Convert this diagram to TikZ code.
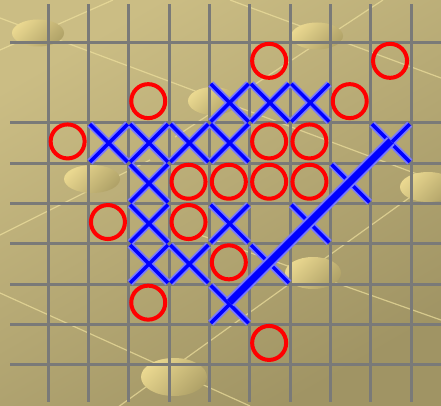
\documentclass[tikz,border=0pt]{standalone}
\usepackage{tikz}
\usetikzlibrary{arrows.meta}

\definecolor{boardtop}{RGB}{203,189,132}
\definecolor{boardbot}{RGB}{160,148,100}
\definecolor{pebblelight}{RGB}{234,216,144}
\definecolor{pebbledark}{RGB}{176,162,104}
\definecolor{streak}{RGB}{238,224,158}
\definecolor{gridgray}{RGB}{122,122,120}
\definecolor{xhalo}{RGB}{120,120,255}

\begin{document}
\begin{tikzpicture}[x=1pt,y=-1pt,
    pebble/.style={top color=pebblelight,bottom color=pebbledark,shading angle=45},
    streakline/.style={streak,line width=1.2pt,opacity=.7},
    gridline/.style={gridgray,line width=3pt},
    ring/.style={red,line width=4pt},
    crosshalo/.style={xhalo,line width=7pt},
    crosscore/.style={blue,line width=3.5pt}]
  \useasboundingbox (0,0) rectangle (441,406);
  \clip (0,0) rectangle (441,406);
  \shade[top color=boardtop,bottom color=boardbot,shading angle=30] (0,0) rectangle (441,406);
  % light streaks on the board
  \draw[streakline] (0,18) -- (441,183);
  \draw[streakline] (0,50) -- (113,0);
  \draw[streakline] (175,137) -- (383,0);
  \draw[streakline] (230,0) -- (441,78);
  \draw[streakline] (0,293) -- (250,406);
  \draw[streakline] (100,420) -- (441,175);
  \draw[streakline] (200,235) -- (441,320);
  \draw[streakline] (0,235) -- (150,160);
  % pebbles
  \shade[pebble] (38,33) ellipse [x radius=26pt,y radius=13.5pt];
  \shade[pebble] (317,36) ellipse [x radius=26pt,y radius=13.5pt];
  \shade[pebble] (213,101) ellipse [x radius=25pt,y radius=14pt];
  \shade[pebble] (92,179) ellipse [x radius=28pt,y radius=14pt];
  \shade[pebble] (428,187) ellipse [x radius=28pt,y radius=15pt];
  \shade[pebble] (313,273) ellipse [x radius=28pt,y radius=16pt];
  \shade[pebble] (174,377) ellipse [x radius=33pt,y radius=19pt];
  \begin{scope}[shift={(48.3,42.3)},x=40.3pt,y=-40.3pt]
    % grid
    \foreach \i in {0,...,9}
      \draw[gridline] (\i,-0.95) -- (\i,8.93);
    \foreach \j in {0,2,3,...,8}
      \draw[gridline] (-0.95,\j) -- (10,\j);
    % noughts
    \foreach \c/\r in {5/0,8/0,2/1,7/1,0/2,5/2,6/2,3/3,4/3,5/3,6/3,1/4,3/4,4/5,2/6,5/7}
      \draw[ring] (\c+0.48,\r+0.46) circle [radius=17pt];
    % crosses
    \foreach \c/\r in {4/1,5/1,6/1,1/2,2/2,3/2,4/2,8/2,2/3,7/3,2/4,4/4,6/4,2/5,3/5,5/5,4/6}
      \draw[crosshalo] (\c+0.03,\r+0.03) -- (\c+0.97,\r+0.97)
                       (\c+0.97,\r+0.03) -- (\c+0.03,\r+0.97);
    \foreach \c/\r in {4/1,5/1,6/1,1/2,2/2,3/2,4/2,8/2,2/3,7/3,2/4,4/4,6/4,2/5,3/5,5/5,4/6}
      \draw[crosscore] (\c+0.03,\r+0.03) -- (\c+0.97,\r+0.97)
                       (\c+0.97,\r+0.03) -- (\c+0.03,\r+0.97);
    % five in a row
    \draw[crosshalo,line width=11pt] (4.5,6.45) -- (8.5,2.45);
    \draw[crosscore,line width=7pt] (4.5,6.45) -- (8.5,2.45);
  \end{scope}
\end{tikzpicture}
\end{document}
